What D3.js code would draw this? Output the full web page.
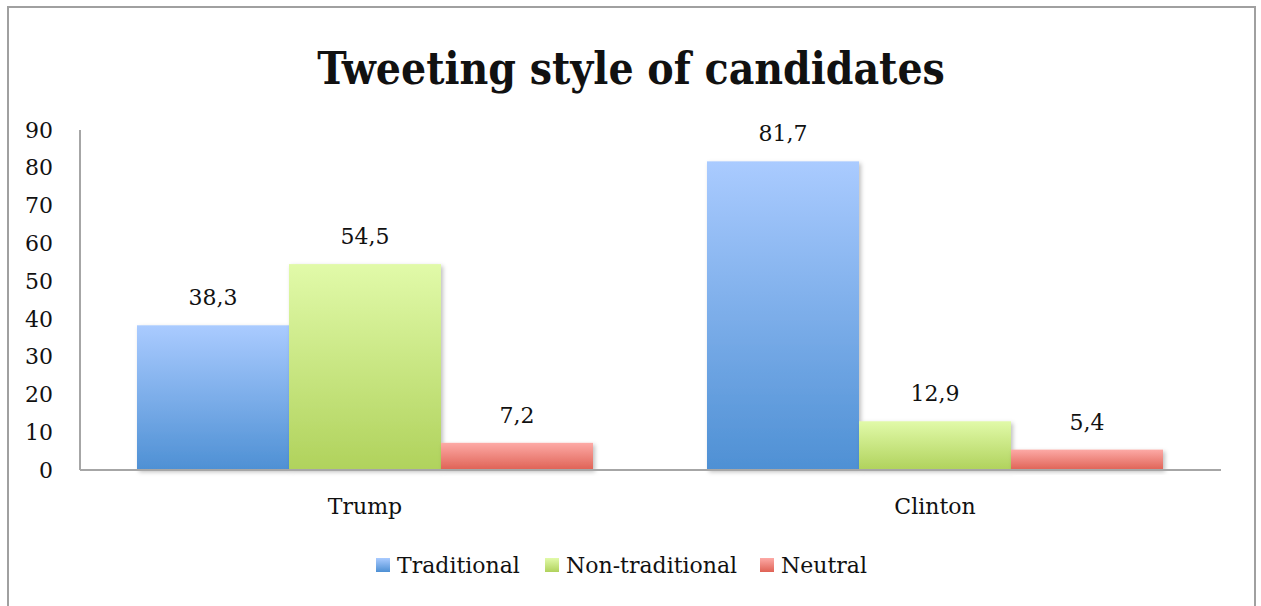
<!DOCTYPE html>
<html>
<head>
<meta charset="utf-8">
<script src="https://cdn.jsdelivr.net/npm/d3@7"></script>
<style>
  body { margin: 0; background: #fff; }
  text { font-family: "DejaVu Serif", serif; fill: #111; }
</style>
</head>
<body>
<div id="chart"></div>
<script>
// chart data
var candidates = ["Trump", "Clinton"];
var styles = ["Traditional", "Non-traditional", "Neutral"];
var traditional = [38.3, 81.7];
var nonTraditional = [54.5, 12.9];
var neutral = [7.2, 5.4];
var yTicks = [0, 10, 20, 30, 40, 50, 60, 70, 80, 90];

var width = 1261, height = 606;

var svg = d3.select("#chart").append("svg")
	.attr("width", width)
	.attr("height", height);

// gradient per series (light on top, dark at the bottom)
var grads = [
	{id: "gBlue", top: "#aacbff", bottom: "#4e90d4"},
	{id: "gGreen", top: "#e1faa9", bottom: "#b0d25c"},
	{id: "gRed", top: "#fdaaa6", bottom: "#df6255"}
];
var defs = svg.append("defs");
grads.forEach(function(g){
	var lg = defs.append("linearGradient")
		.attr("id", g.id)
		.attr("x1", 0).attr("y1", 0)
		.attr("x2", 0).attr("y2", 1);
	lg.append("stop").attr("offset", "0%").attr("stop-color", g.top);
	lg.append("stop").attr("offset", "100%").attr("stop-color", g.bottom);
});
var shadow = defs.append("filter").attr("id", "shadow")
	.attr("x", "-10%").attr("y", "-10%").attr("width", "130%").attr("height", "130%");
shadow.append("feDropShadow")
	.attr("dx", 2).attr("dy", 2).attr("stdDeviation", 2)
	.attr("flood-color", "#000").attr("flood-opacity", 0.25);

// frame
svg.append("path")
	.attr("d", "M8," + height + "V7H1255V" + height)
	.attr("fill", "none")
	.attr("stroke", "#a0a0a0")
	.attr("stroke-width", 2);

// scales
var x0 = d3.scaleBand().domain(candidates).range([80, 1220]);
var x1 = d3.scaleBand().domain(styles).range([0, x0.bandwidth()]).paddingOuter(0.375).paddingInner(0);
var y = d3.scaleLinear().domain([0, 90]).range([470, 130]);

// title
svg.append("text")
	.attr("x", 631).attr("y", 84)
	.attr("text-anchor", "middle")
	.style("font-family", "'DejaVu Serif Condensed', 'DejaVu Serif', serif")
	.style("font-weight", "bold")
	.style("font-size", "44px")
	.text("Tweeting style of candidates");

// y axis labels
svg.append("g").selectAll("text")
	.data(yTicks)
	.join("text")
	.attr("x", 53)
	.attr("y", function(d){ return y(d); })
	.attr("dy", "0.35em")
	.attr("text-anchor", "end")
	.style("font-size", "22px")
	.text(function(d){ return d; });

// bars
var series = [traditional, nonTraditional, neutral];
var groups = svg.append("g").selectAll("g")
	.data(candidates)
	.join("g")
	.attr("transform", function(d){ return "translate(" + x0(d) + ",0)"; });

var fmt = function(v){ return String(v).replace(".", ","); };

groups.each(function(c, ci){
	var g = d3.select(this);
	styles.forEach(function(s, si){
		var v = series[si][ci];
		g.append("rect")
			.attr("x", x1(s))
			.attr("y", y(v))
			.attr("width", x1.bandwidth())
			.attr("height", y(0) - y(v))
			.attr("fill", "url(#" + grads[si].id + ")")
			.attr("filter", "url(#shadow)");
		g.append("text")
			.attr("x", x1(s) + x1.bandwidth() / 2)
			.attr("y", y(v) - 20)
			.attr("text-anchor", "middle")
			.style("font-size", "22px")
			.text(fmt(v));
	});
});

// axis lines
svg.append("line")
	.attr("x1", 80).attr("x2", 80)
	.attr("y1", y(90)).attr("y2", y(0))
	.attr("stroke", "#a6a6a6").attr("stroke-width", 2);
svg.append("line")
	.attr("x1", 80).attr("x2", 1221)
	.attr("y1", y(0)).attr("y2", y(0))
	.attr("stroke", "#a6a6a6").attr("stroke-width", 2);

// category labels
svg.append("g").selectAll("text")
	.data(candidates)
	.join("text")
	.attr("x", function(d){ return x0(d) + x0.bandwidth() / 2; })
	.attr("y", 514)
	.attr("text-anchor", "middle")
	.style("font-size", "22px")
	.text(function(d){ return d; });

// legend
var legendX = [376, 545, 760];
var legend = svg.append("g").selectAll("g")
	.data(styles)
	.join("g")
	.attr("transform", function(d, i){ return "translate(" + legendX[i] + ",558)"; });
legend.append("rect")
	.attr("width", 14).attr("height", 14)
	.attr("fill", function(d, i){ return "url(#" + grads[i].id + ")"; });
legend.append("text")
	.attr("x", 21).attr("y", 15)
	.style("font-size", "22px")
	.text(function(d){ return d; });
</script>
</body>
</html>
